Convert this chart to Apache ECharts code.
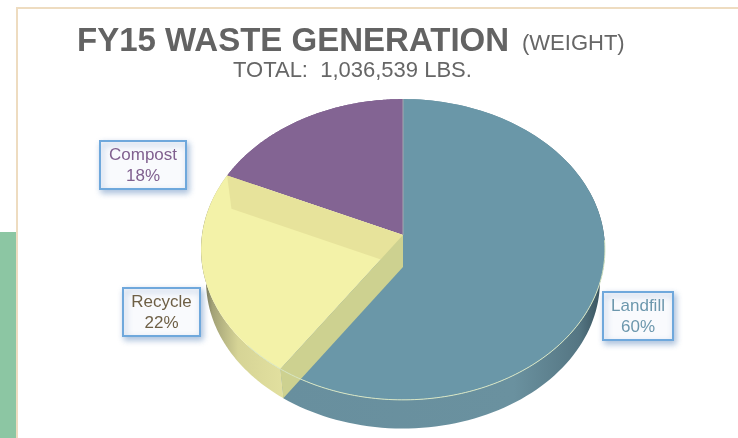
<!DOCTYPE html>
<html>
<head>
<meta charset="utf-8">
<style>
  html, body { margin: 0; padding: 0; background: #fff; }
  #chart { width: 738px; height: 438px; }
</style>
<script src="https://cdn.jsdelivr.net/npm/echarts@6/dist/echarts.min.js"></script>
</head>
<body>
<div id="chart"></div>
<script>
  const categories = ['Landfill', 'Recycle', 'Compost'];
  const shares = [59.5, 22.3, 18.2];

  const total = shares.reduce((a, b) => a + b, 0);
  const font = '"Liberation Sans", Arial, sans-serif';

  // the pie is a tilted disc, so slices go through a small perspective projection
  const apexX = 403;
  const topLevel = { y: 235, sx: 201, sy: 149 };
  const bottomLevel = { y: 267, sx: 196, sy: 146 };
  const tilt = 0.0962;

  const project = (deg, level) => {
    const a = deg * Math.PI / 180;
    const u = Math.sin(a);
    const v = -Math.cos(a);
    const d = 1 - tilt * v;
    return [apexX + level.sx * u / d, level.y + level.sy * v / d];
  };

  const arc = (from, to, level) => {
    const pts = [];
    for (let i = 0; i <= 120; i++) {
      pts.push(project(from + (to - from) * i / 120, level));
    }
    return pts;
  };

  const sliceStyles = {
    Landfill: {
      top: '#6a97a8',
      wall: new echarts.graphic.LinearGradient(0, 0, 1, 0, [
        { offset: 0, color: '#688f9e' },
        { offset: 0.72, color: '#6a919f' },
        { offset: 0.92, color: '#557683' },
        { offset: 1, color: '#334d58' }
      ]),
      text: '#6c97ad',
      box: [603, 292, 70, 48]
    },
    Recycle: {
      top: '#f3f2a8',
      wall: new echarts.graphic.LinearGradient(0, 0, 1, 0, [
        { offset: 0, color: '#5f5f48' },
        { offset: 0.14, color: '#a3a277' },
        { offset: 0.45, color: '#d6d496' },
        { offset: 1, color: '#e2e09f' }
      ]),
      text: '#6e5f45',
      box: [123, 288, 77, 48]
    },
    Compost: {
      top: '#836493',
      wall: '#775a86',
      text: '#80608f',
      box: [100, 141, 86, 48]
    }
  };

  function renderSlice(params, api) {
    const i = params.dataIndex;
    const name = categories[i];
    const st = sliceStyles[name];
    const before = shares.slice(0, i).reduce((a, b) => a + b, 0);
    const from = before / total * 360;
    const to = (before + api.value(0)) / total * 360;
    const apex = [apexX, topLevel.y];
    const isRecycle = name === 'Recycle';

    const children = [
      {
        type: 'polygon',
        z2: isRecycle ? 2 : 1,
        shape: { points: arc(from, to, topLevel).concat(arc(from, to, bottomLevel).reverse()) },
        style: { fill: st.wall }
      },
      {
        type: 'polygon',
        z2: isRecycle ? 3 : 2,
        shape: { points: [apex].concat(arc(from, to, topLevel)) },
        style: { fill: st.top }
      }
    ];

    if (isRecycle) {
      // the yellow slice is see-through: the cut faces behind and below it still show
      const inner = [apexX, bottomLevel.y];
      children.push({
        type: 'polygon',
        z2: 4,
        shape: { points: [apex, project(to, topLevel), project(to, bottomLevel), inner] },
        style: { fill: '#e7e39b' }
      });
      children.push({
        type: 'polygon',
        z2: 4,
        shape: { points: [apex, project(from, topLevel), project(from, bottomLevel), inner] },
        style: { fill: '#cdd190' }
      });
    }

    if (name === 'Landfill') {
      // pale rim along the front edge, and the seam with the purple slice
      children.push({
        type: 'polyline',
        z2: 6,
        shape: { points: arc(from + 92, to + 12, topLevel) },
        style: { fill: 'none', stroke: '#d8e6c4', lineWidth: 1 }
      });
      children.push({
        type: 'polyline',
        z2: 6,
        shape: { points: [apex, project(0, topLevel)] },
        style: { fill: 'none', stroke: '#a3a7ae', lineWidth: 1 }
      });
    }

    const [bx, by, bw, bh] = st.box;
    children.push({
      type: 'rect',
      z2: 7,
      shape: { x: bx, y: by, width: bw, height: bh },
      style: {
        fill: '#f9fafd',
        stroke: '#6fa8dc',
        lineWidth: 2,
        shadowBlur: 6,
        shadowOffsetX: 2,
        shadowOffsetY: 3,
        shadowColor: 'rgba(70,120,180,0.45)'
      }
    });
    children.push({
      type: 'text',
      z2: 8,
      style: {
        x: bx + bw / 2,
        y: by + bh / 2 + 1,
        text: name + '\n' + Math.round(api.value(0)) + '%',
        align: 'center',
        verticalAlign: 'middle',
        fill: st.text,
        font: '17px ' + font,
        lineHeight: 21
      }
    });

    return { type: 'group', children };
  }

  const chart = echarts.init(document.getElementById('chart'), null, { renderer: 'canvas' });
  chart.setOption({
    animation: false,
    backgroundColor: '#fff',
    title: [
      {
        text: 'FY15 WASTE GENERATION',
        left: 77,
        top: 25,
        padding: 0,
        textStyle: { fontFamily: font, fontSize: 33, fontWeight: 'bold', color: '#636363' }
      },
      {
        text: '(WEIGHT)',
        left: 522,
        top: 33,
        padding: 0,
        textStyle: { fontFamily: font, fontSize: 22, fontWeight: 'normal', color: '#666' }
      },
      {
        text: 'TOTAL:  1,036,539 LBS.',
        left: 233,
        top: 60,
        padding: 0,
        textStyle: { fontFamily: font, fontSize: 22, fontWeight: 'normal', color: '#666' }
      }
    ],
    graphic: [
      { type: 'rect', shape: { x: 0, y: 232, width: 16, height: 206 }, style: { fill: '#8cc6a3' } },
      { type: 'rect', shape: { x: 16, y: 7, width: 722, height: 2 }, style: { fill: '#eedcc0' } },
      { type: 'rect', shape: { x: 16, y: 7, width: 2, height: 431 }, style: { fill: '#eedcc0' } }
    ],
    series: [{
      type: 'custom',
      coordinateSystem: 'none',
      data: shares.map(v => [v]),
      renderItem: renderSlice
    }]
  });
</script>
</body>
</html>
